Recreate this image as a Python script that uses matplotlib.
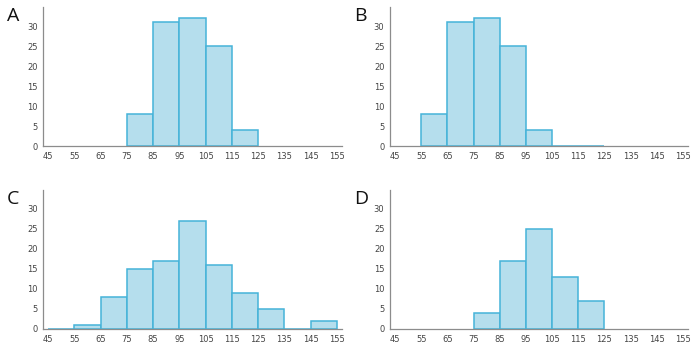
import numpy as np
import matplotlib
matplotlib.use("Agg")
import matplotlib.pyplot as plt

# bin left edges (width 10) and counts per panel
bins = [45, 55, 65, 75, 85, 95, 105, 115, 125, 135, 145]
counts_a = [None, None, None, 8, 31, 32, 25, 4, None, None, None]
counts_b = [None, 8, 31, 32, 25, 4, 0, 0, None, None, None]
counts_c = [0, 1, 8, 15, 17, 27, 16, 9, 5, 0, 2]
counts_d = [None, None, None, 4, 17, 25, 13, 7, None, None, None]
tick_vals = [45, 55, 65, 75, 85, 95, 105, 115, 125, 135, 145, 155]
panel_labels = ["A", "B", "C", "D"]

fill = "#b5deed"
edge = "#45b3d9"
spine = "#8c8c8c"

fig = plt.figure(figsize=(6.97, 3.45), dpi=100)
boxes = [
    [0.0617, 0.5768, 0.4290, 0.4029],
    [0.5595, 0.5768, 0.4276, 0.4029],
    [0.0617, 0.0464, 0.4290, 0.4029],
    [0.5595, 0.0464, 0.4276, 0.4029],
]
all_counts = [counts_a, counts_b, counts_c, counts_d]

for box, counts, lab in zip(boxes, all_counts, panel_labels):
    ax = fig.add_axes(box)
    xs = [b for b, c in zip(bins, counts) if c is not None]
    hs = [c for c in counts if c is not None]
    ax.bar(xs, hs, width=10, align="edge", color=fill, edgecolor=edge, linewidth=1.1)
    ax.set_xlim(43.1, 156.9)
    ax.set_ylim(0, 34.75)
    ax.set_xticks(tick_vals)
    ax.set_yticks([0, 5, 10, 15, 20, 25, 30])
    ax.tick_params(length=0, labelsize=6, colors="#444444", pad=4)
    for s in ["top", "right"]:
        ax.spines[s].set_visible(False)
    for s in ["left", "bottom"]:
        ax.spines[s].set_color(spine)
        ax.spines[s].set_linewidth(0.9)
    fig.text(box[0] - 0.052, box[1] + box[3] - 0.025, lab, fontsize=14,
             family="Open Sans", va="center", ha="left", color="#111111")

fig.savefig("out.png", dpi=100)
